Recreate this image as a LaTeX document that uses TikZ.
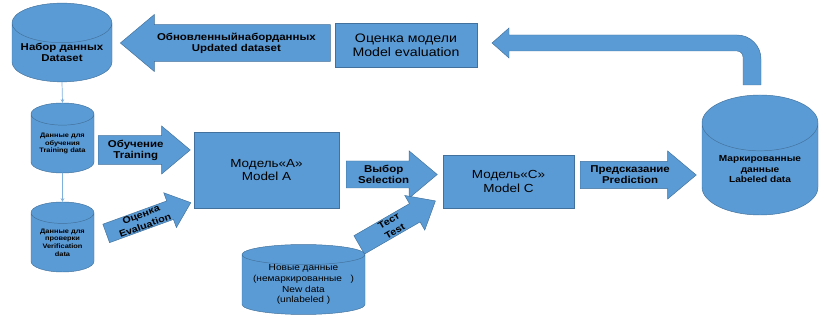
\documentclass[tikz,border=0pt]{standalone}
\usepackage{fontspec}
\setmainfont{Liberation Sans}[FakeStretch=1.15]
\usepackage{tikz}
\usetikzlibrary{shapes.geometric, shapes.arrows, arrows.meta, positioning, calc}
\definecolor{mlblue}{HTML}{5B9BD5}
\definecolor{mlborder}{HTML}{41719C}
\definecolor{mllink}{HTML}{7EB0DE}
\tikzset{
  dbnode/.style={cylinder, shape border rotate=90, anchor=shape center, draw=mlborder, fill=mlblue, inner sep=0pt, align=center, font=\bfseries\fontsize{5.5}{6.5}\selectfont},
  modelnode/.style={draw=mlborder, fill=mlblue, inner sep=0pt, align=center, font=\fontsize{10}{11.5}\selectfont},
  blockarrow/.style={single arrow, draw=mlborder, fill=mlblue, single arrow tip angle=80, inner xsep=1pt, align=center, font=\bfseries\fontsize{8.5}{9.5}\selectfont},
  thinlink/.style={-{Stealth[length=3pt, width=3pt]}, draw=mllink, line width=0.6pt}
}
\begin{document}
\begin{tikzpicture}
  \useasboundingbox (0,0) rectangle (24.87,-9.51);

  % data stores
  \node[dbnode, minimum width=3cm, minimum height=2.13cm, aspect=0.48, font=\bfseries\fontsize{8.5}{10}\selectfont]
    at (1.86,-1.275) (dataset) {Набор данных\\Dataset};
  \node[dbnode, minimum width=1.89cm, minimum height=2.1cm, aspect=0.48]
    at (1.875,-4.14) (trainset) {Данные для\\обучения\\Training data};
  \node[dbnode, minimum width=1.89cm, minimum height=2.1cm, aspect=0.48]
    at (1.875,-7.11) (verifset) {Данные для\\проверки\\Verification\\data};
  \node[dbnode, minimum width=3.69cm, minimum height=1.65cm, aspect=0.2, font=\fontsize{7.5}{9}\selectfont]
    at (9.105,-8.385) (newdata) {Новые данные\\(немаркированные\ \ \ )\\New data\\(unlabeled )};
  \node[dbnode, minimum width=3.48cm, minimum height=3.6cm, aspect=0.68, font=\bfseries\fontsize{7.5}{9}\selectfont]
    at (22.8,-4.65) (labeled) {Маркированные\\данные\\Labeled data};

  % models
  \node[modelnode, minimum width=4.35cm, minimum height=2.28cm] at (7.995,-5.1) (modelA)
    {Модель«А»\\Model A};
  \node[modelnode, minimum width=3.93cm, minimum height=1.59cm] at (15.255,-5.445) (modelC)
    {Модель«С»\\Model C};
  \node[modelnode, minimum width=4.26cm, minimum height=1.32cm, font=\fontsize{10.5}{12}\selectfont]
    at (12.18,-1.35) (evalmodel) {Оценка модели\\Model evaluation};

  \draw[thinlink] (dataset.south) -- (trainset.north);
  \draw[thinlink] (trainset.south) -- (verifset.north);

  % block arrows
  \node[blockarrow, shape border rotate=180, minimum height=6.3cm, minimum width=1.71cm, inner ysep=4pt, anchor=tip]
    at (3.6,-1.29) (updarrow) {Обновленныйнаборданных\\Updated dataset};
  \node[blockarrow, minimum height=2.76cm, minimum width=1.44cm, inner ysep=1.5pt, anchor=tail]
    at (2.94,-4.5) (trainarrow) {Обучение\\Training};
  \node[blockarrow, rotate=20, minimum height=2.7cm, minimum width=1.11cm, inner ysep=0pt, anchor=tail,
    font=\bfseries\fontsize{8}{10}\selectfont]
    at (3.18,-7.005) (evalarrow) {Оценка\\Evaluation};
  \node[blockarrow, minimum height=2.73cm, minimum width=1.41cm, inner ysep=1.5pt, anchor=tail]
    at (10.38,-5.235) (selarrow) {Выбор\\Selection};
  \node[blockarrow, rotate=30, minimum height=2.64cm, minimum width=1.2cm, inner ysep=0pt, anchor=tail,
    font=\bfseries\fontsize{8}{10}\selectfont]
    at (10.77,-7.35) (testarrow) {Тест\\Test};
  \node[blockarrow, minimum height=3.48cm, minimum width=1.44cm, inner ysep=1.5pt, anchor=tail]
    at (17.4,-5.25) (predarrow) {Предсказание\\Prediction};

  % feedback arrow from labeled data
  \draw[draw=mlborder, fill=mlblue] (22.83,-2.55) -- (22.83,-1.77)
    arc[start angle=0, end angle=90, radius=0.72] -- (15.27,-1.05) -- (15.27,-0.84)
    -- (14.76,-1.29) -- (15.27,-1.74) -- (15.27,-1.53) -- (22.11,-1.53)
    arc[start angle=90, end angle=0, radius=0.18] -- (22.29,-2.55) -- cycle;
\end{tikzpicture}
\end{document}
